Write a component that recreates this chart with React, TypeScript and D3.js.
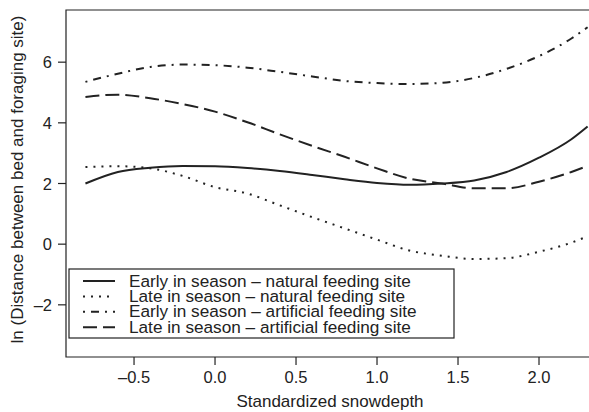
import React from "react";
import * as d3 from "d3";

const xs = [-0.8, -0.6, -0.4, -0.2, 0, 0.2, 0.4, 0.6, 0.8, 1.0, 1.2, 1.4, 1.6, 1.8, 2.0, 2.2, 2.3];
const earlyNatural = [2.0, 2.38, 2.52, 2.58, 2.57, 2.51, 2.41, 2.28, 2.14, 2.02, 1.96, 2.0, 2.1, 2.38, 2.85, 3.46, 3.88];
const lateNatural = [2.54, 2.57, 2.5, 2.25, 1.88, 1.67, 1.28, 0.89, 0.52, 0.15, -0.21, -0.38, -0.49, -0.46, -0.25, 0.05, 0.26];
const earlyArtificial = [5.35, 5.62, 5.84, 5.92, 5.9, 5.82, 5.68, 5.53, 5.38, 5.31, 5.28, 5.32, 5.48, 5.78, 6.2, 6.78, 7.15];
const lateArtificial = [4.85, 4.93, 4.81, 4.62, 4.37, 4.02, 3.62, 3.24, 2.88, 2.5, 2.16, 2.0, 1.84, 1.84, 2.06, 2.38, 2.58];

const seriesNames = [
  "Early in season \u2013 natural feeding site",
  "Late in season \u2013 natural feeding site",
  "Early in season \u2013 artificial feeding site",
  "Late in season \u2013 artificial feeding site",
];
const seriesValues = [earlyNatural, lateNatural, earlyArtificial, lateArtificial];
const dashes = ["none", "2,6", "2,6,8,6", "14,6"];

const xTicks = [-0.5, 0.0, 0.5, 1.0, 1.5, 2.0];
const yTicks = [-2, 0, 2, 4, 6];

const font = "'Liberation Sans', Arial, Helvetica, sans-serif";
const ink = "#222";

export default function App() {
  const x = d3.scaleLinear().domain([-0.92, 2.35]).range([66, 595.7]);
  const y = d3.scaleLinear().domain([-3.72, 7.72]).range([357, 10]);
  const line = d3
    .line<[number, number]>()
    .x((d) => x(d[0]))
    .y((d) => y(d[1]))
    .curve(d3.curveMonotoneX);

  const left = 66, top = 10, bottom = 357, right = 620;

  return (
    <div style={{ position: "absolute", left: 0, top: 0 }}>
      <svg width={589} height={412} style={{ display: "block", background: "#fff" }} fontFamily={font}>
        <defs>
          <clipPath id="plotclip">
            <rect x={left} y={top} width={right - left} height={bottom - top} />
          </clipPath>
        </defs>
        <g clipPath="url(#plotclip)">
          {seriesValues.map((vals, i) => (
            <path
              key={i}
              d={line(xs.map((xv, j) => [xv, vals[j]] as [number, number])) || ""}
              fill="none"
              stroke={ink}
              strokeWidth={2}
              strokeDasharray={dashes[i]}
            />
          ))}
        </g>
        <path d={`M${right},${top}H${left}V${bottom}H${right}`} fill="none" stroke={ink} strokeWidth={1.2} />
        {xTicks.map((t) => (
          <g key={t}>
            <line x1={x(t)} x2={x(t)} y1={bottom} y2={bottom + 8} stroke={ink} strokeWidth={1.2} />
            <text x={x(t)} y={bottom + 26} textAnchor="middle" fontSize={16.5} fill={ink}>
              {t < 0 ? "\u2013" + Math.abs(t).toFixed(1) : t.toFixed(1)}
            </text>
          </g>
        ))}
        {yTicks.map((t) => (
          <g key={t}>
            <line x1={left - 8} x2={left} y1={y(t)} y2={y(t)} stroke={ink} strokeWidth={1.2} />
            <text x={left - 14} y={y(t) + 6} textAnchor="end" fontSize={16.5} fill={ink}>
              {t < 0 ? "\u2013" + Math.abs(t) : String(t)}
            </text>
          </g>
        ))}
        <text x={330} y={407} textAnchor="middle" fontSize={17} fill={ink}>
          Standardized snowdepth
        </text>
        <text
          transform={`translate(23,${(top + bottom) / 2 - 4}) rotate(-90)`}
          textAnchor="middle"
          fontSize={17}
          fill={ink}
        >
          ln (Distance between bed and foraging site)
        </text>
        <rect x={69} y={269} width={385} height={69} fill="#fff" stroke={ink} strokeWidth={1.2} />
        {seriesNames.map((name, i) => {
          const cy = 281 + i * 15.4;
          return (
            <g key={name}>
              <line x1={83} x2={115} y1={cy} y2={cy} stroke={ink} strokeWidth={2} strokeDasharray={dashes[i]} />
              <text x={129} y={cy + 5.5} fontSize={17.2} fill={ink}>
                {name}
              </text>
            </g>
          );
        })}
      </svg>
    </div>
  );
}
